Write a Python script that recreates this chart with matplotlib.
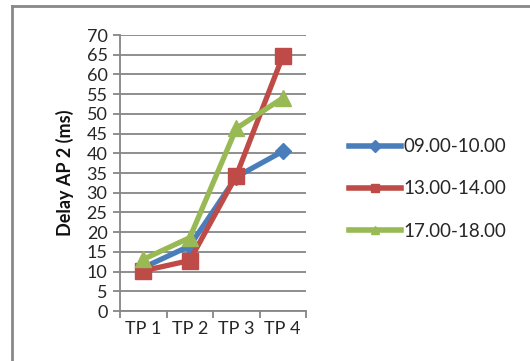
import matplotlib.pyplot as plt
from matplotlib.lines import Line2D

# delay measured at AP 2 for each test point, per time slot
points = ['TP 1', 'TP 2', 'TP 3', 'TP 4']
slots = ['09.00-10.00', '13.00-14.00', '17.00-18.00']
delay_0900 = [11, 16.5, 34, 40.5]
delay_1300 = [10.2, 12.8, 34.3, 64.6]
delay_1700 = [13.1, 18.6, 46.3, 54]

plt.rcParams['font.family'] = ['Lato', 'DejaVu Sans']

fig = plt.figure(figsize=(5.30, 3.61), dpi=100)
ax = fig.add_axes([120 / 530, 1 - 311 / 361, 186 / 530, 276 / 361])

x = list(range(len(points)))
ax.plot(x, delay_0900, color='#4A7EBB', lw=3.8, marker='D', ms=8,
        label=slots[0], zorder=3)
ax.plot(x, delay_1300, color='#BE4B48', lw=3.8, marker='s', ms=11,
        label=slots[1], zorder=4)
ax.plot(x, delay_1700, color='#98B954', lw=3.8, marker='^', ms=12,
        label=slots[2], zorder=5)

ax.set_xlim(-0.5, 3.5)
ax.set_ylim(0, 70)
ax.set_yticks(range(0, 71, 5))
ax.yaxis.grid(True, color='#868686', lw=1.3)
ax.set_axisbelow(True)

# category labels centred, tick marks on the boundaries
ax.set_xticks([i - 0.5 for i in range(5)])
ax.set_xticklabels([])
ax.set_xticks(x, minor=True)
ax.set_xticklabels(points, minor=True)
ax.tick_params(axis='x', which='minor', length=0, pad=7, labelsize=13,
               labelcolor='#262626')
ax.tick_params(axis='x', which='major', length=5, width=1.3, color='#868686')
ax.tick_params(axis='y', length=5, width=1.3, color='#868686', labelsize=13,
               labelcolor='#262626', pad=4)

for side in ['top', 'right']:
    ax.spines[side].set_visible(False)
for side in ['left', 'bottom']:
    ax.spines[side].set_color('#868686')
    ax.spines[side].set_linewidth(1.3)

ax.set_ylabel('Delay AP 2 (ms)', fontsize=13, fontweight='bold',
              color='#111111', labelpad=9)

leg = fig.legend(loc='center left', bbox_to_anchor=(341 / 530, 1 - 189 / 361),
                 frameon=False, fontsize=13.5, handlelength=2.8,
                 handletextpad=0.15, labelspacing=1.35, borderaxespad=0)
for h in leg.legend_handles:
    h.set_markersize(6)
    h.set_linewidth(4)
for t in leg.get_texts():
    t.set_color('#262626')

# chart frame
fig.add_artist(Line2D([12 / 530, 12 / 530], [0, 1 - 6 / 361],
                      color='#888888', lw=2, transform=fig.transFigure))
fig.add_artist(Line2D([12 / 530, 1], [1 - 6 / 361, 1 - 6 / 361],
                      color='#888888', lw=2, transform=fig.transFigure))

fig.savefig('out.png', dpi=100)
